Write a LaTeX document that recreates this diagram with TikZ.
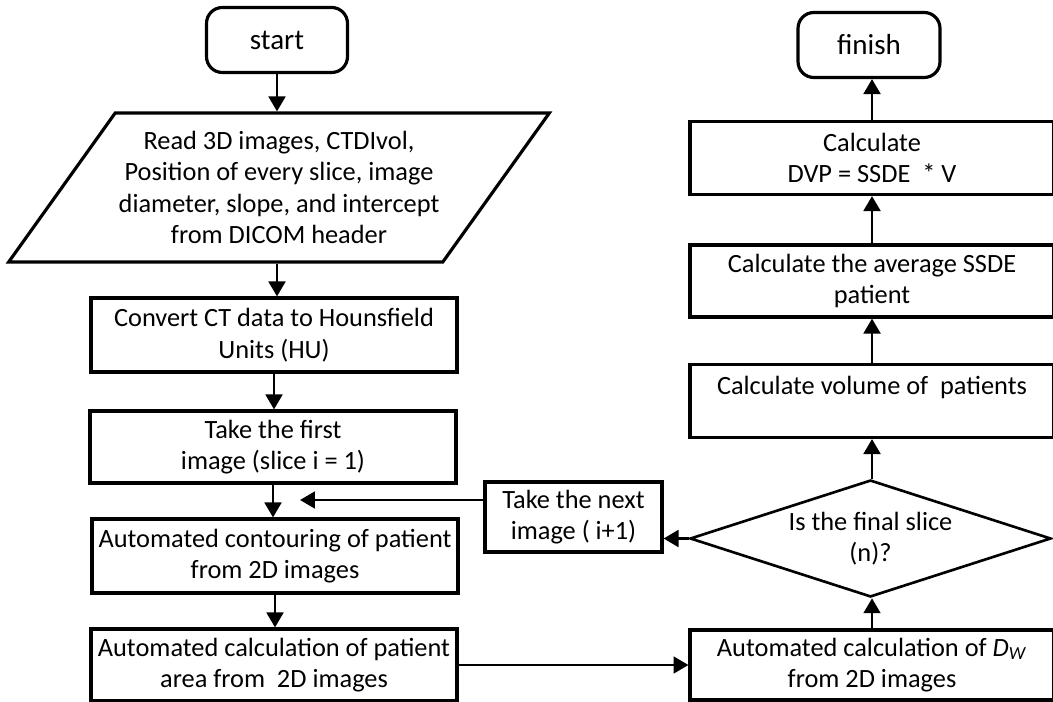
\documentclass[tikz,border=0pt]{standalone}
\usepackage{fontspec}
\setmainfont{Carlito}
\usetikzlibrary{shapes.geometric,arrows.meta}

\begin{document}
\begin{tikzpicture}[x=0.02cm,y=-0.02cm,
	box/.style={draw,line width=1.8pt,align=center,inner sep=2pt,font=\fontsize{15}{18}\selectfont},
	term/.style={box,rounded corners=9pt,minimum height=1.3cm,font=\fontsize{16.5}{18}\selectfont},
	flow/.style={line width=1.6pt,-{Triangle[length=8.5pt,width=9.5pt]}}]
		\clip (0,0) rectangle (1053,702);
		\node[term,minimum width=2.82cm] (start) at (277,40) {start};
		\node[box,trapezium,trapezium left angle=48.5,trapezium right angle=131.5,trapezium stretches body,minimum width=10.64cm,minimum height=2.98cm] (read) at (279,187.5) {Read 3D images, CTDIvol,\\ Position of every slice, image\\ diameter, slope, and intercept\\ from DICOM header};
		\node[box,minimum width=7.32cm,minimum height=1.48cm] (convert) at (274,335) {Convert CT data to Hounsfield\\ Units (HU)};
		\node[box,minimum width=7.32cm,minimum height=1.44cm] (first) at (273,447) {Take the first\\ image (slice i = 1)};
		\node[box,minimum width=7.32cm,minimum height=1.48cm] (contour) at (275,556) {Automated contouring of patient\\ from 2D images};
		\node[box,minimum width=7.32cm,minimum height=1.44cm] (area) at (274,665) {Automated calculation of patient\\ area from~~2D images};
		\node[box,minimum width=3.54cm,minimum height=1.4cm] (next) at (573.5,517) {Take the next\\ image ( i+1)};
		\node[box,line width=1.5pt,diamond,aspect=3.09,inner sep=0pt,minimum width=7.22cm,minimum height=2.34cm] (test) at (870.5,538.5) {Is the final slice\\ (n)?};
		\node[box,minimum width=7.28cm,minimum height=1.4cm] (dw) at (872,665) {Automated calculation of \textit{D}\textsubscript{\textit{W}}\\ from 2D images};
		\node[box,minimum width=7.28cm,minimum height=1.46cm] (volume) at (872,401) {Calculate volume of~~patients\\ ~};
		\node[box,minimum width=7.28cm,minimum height=1.44cm] (avg) at (872,281) {Calculate the average SSDE\\ patient};
		\node[box,minimum width=7.28cm,minimum height=1.46cm] (dvp) at (872,158) {Calculate\\ DVP = SSDE~ * V};
		\node[term,minimum width=2.84cm] (finish) at (869,45) {finish};
		\coordinate (back) at (300,500);
		\draw[flow] (start) -- (start |- read.north);
		\draw[flow] (read.south -| start) -- (start |- convert.north);
		\draw[flow] (convert) -- (convert |- first.north);
		\draw[flow] (first) -- (first |- contour.north);
		\draw[flow] (contour) -- (contour |- area.north);
		\draw[flow] (area.east) -- (area.east -| dw.west);
		\draw[flow] (dw) -- (dw |- test.south);
		\draw[flow] (test.west) -- (test.west -| next.east);
		\draw[flow] (next.west |- back) -- (back);
		\draw[flow] (test.north -| dw) -- (dw |- volume.south);
		\draw[flow] (volume) -- (volume |- avg.south);
		\draw[flow] (avg) -- (avg |- dvp.south);
		\draw[flow] (dvp.north -| avg) -- (avg |- finish.south);
\end{tikzpicture}
\end{document}
